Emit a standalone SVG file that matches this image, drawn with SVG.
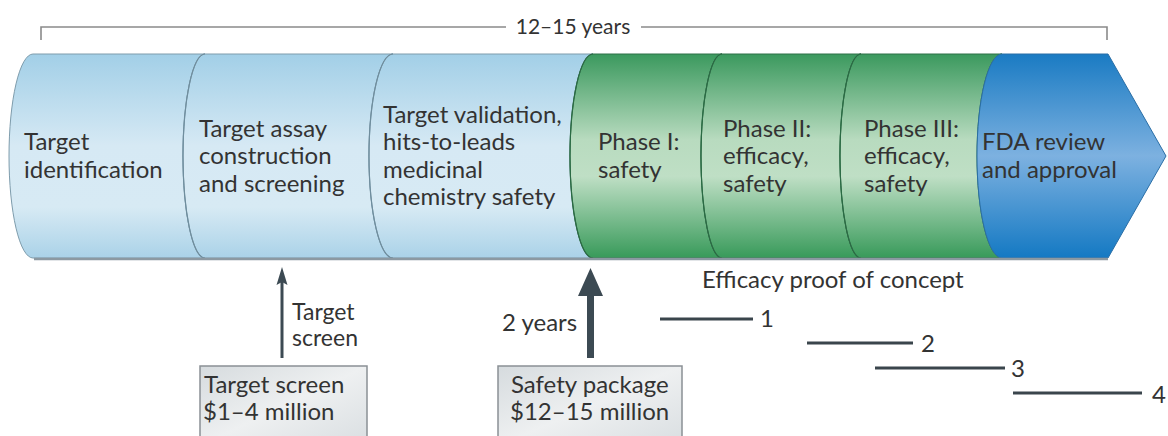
<svg xmlns="http://www.w3.org/2000/svg" width="1168" height="436" viewBox="0 0 1168 436">
  <style>
    text { font-family: Lato, "Open Sans", "Liberation Sans", sans-serif; font-size: 24px; fill: #333; }
    .small { font-size: 21px; }
    .label { font-size: 23px; }
    .bracket { fill: none; stroke: #8a8a8a; stroke-width: 1.6; }
    .seg-blue { fill: url(#gBlue); stroke: #7e9cac; stroke-width: 1; }
    .seg-green { fill: url(#gGreen); stroke: #2f7048; stroke-width: 1; }
    .seg-fda { fill: url(#gFda); stroke: #2a6ea6; stroke-width: 1; }
    .arc-blue { fill: none; stroke: #6f8d9d; stroke-width: 1.2; }
    .arc-green { fill: none; stroke: #2b6a44; stroke-width: 1.2; }
    .shadow { stroke: #8c99a2; stroke-width: 2.5; }
    .arrow { stroke: #3c4a53; fill: none; }
    .head { fill: #3c4a53; }
    .cost { fill: url(#gBox); stroke: #8a9095; stroke-width: 1.5; }
    .poc { stroke: #3a454c; stroke-width: 3; }
  </style>
  <defs>
    <linearGradient id="gBlue" x1="0" y1="0" x2="0" y2="1">
      <stop offset="0" stop-color="#a2cfe7"/>
      <stop offset="0.45" stop-color="#d6e9f4"/>
      <stop offset="0.75" stop-color="#d7eaf4"/>
      <stop offset="1" stop-color="#aad2e8"/>
    </linearGradient>
    <linearGradient id="gGreen" x1="0" y1="0" x2="0" y2="1">
      <stop offset="0" stop-color="#3b995e"/>
      <stop offset="0.42" stop-color="#b8dbbf"/>
      <stop offset="0.6" stop-color="#bfdfc5"/>
      <stop offset="1" stop-color="#389a5a"/>
    </linearGradient>
    <linearGradient id="gFda" x1="0" y1="0" x2="0" y2="1">
      <stop offset="0" stop-color="#1a7bc3"/>
      <stop offset="0.5" stop-color="#7db1e0"/>
      <stop offset="1" stop-color="#1479c3"/>
    </linearGradient>
    <linearGradient id="gBox" x1="0" y1="0" x2="1" y2="1">
      <stop offset="0" stop-color="#d6dbde"/>
      <stop offset="0.5" stop-color="#eef0f1"/>
      <stop offset="1" stop-color="#d9dee1"/>
    </linearGradient>
  </defs>

  <!-- overall duration bracket -->
  <g id="duration">
    <path class="bracket" d="M41,40 V27 H506 M641,27 H1107 V40"/>
    <text class="small" x="573" y="34" text-anchor="middle">12–15 years</text>
  </g>

  <!-- pipeline stages, left to right -->
  <g id="stage-target-id">
    <path class="seg-blue" d="M33,54 A24,102 0 0 0 33,258 L205,258 A22,102 0 0 1 205,54 Z"/>
    <text x="24" y="150">Target</text>
    <text x="24" y="177.5">identification</text>
  </g>
  <g id="stage-assay">
    <path class="seg-blue" d="M205,54 A22,102 0 0 0 205,258 L393,258 A24,102 0 0 1 393,54 Z"/>
    <path class="arc-blue" d="M205,54 A22,102 0 0 0 205,258"/>
    <text x="199" y="136.5">Target assay</text>
    <text x="199" y="164">construction</text>
    <text x="199" y="191.5">and screening</text>
  </g>
  <g id="stage-validation">
    <path class="seg-blue" d="M393,54 A24,102 0 0 0 393,258 L593,258 A23,102 0 0 1 593,54 Z"/>
    <path class="arc-blue" d="M393,54 A24,102 0 0 0 393,258"/>
    <text x="383" y="122.75">Target validation,</text>
    <text x="383" y="150.25">hits-to-leads</text>
    <text x="383" y="177.75">medicinal</text>
    <text x="383" y="205.25">chemistry safety</text>
  </g>
  <g id="stage-phase1">
    <path class="seg-green" d="M593,54 A23,102 0 0 0 593,258 L722,258 A21,102 0 0 1 722,54 Z"/>
    <path class="arc-green" d="M593,54 A23,102 0 0 0 593,258"/>
    <text x="598" y="150">Phase I:</text>
    <text x="598" y="177.5">safety</text>
  </g>
  <g id="stage-phase2">
    <path class="seg-green" d="M722,54 A21,102 0 0 0 722,258 L861,258 A21,102 0 0 1 861,54 Z"/>
    <path class="arc-green" d="M722,54 A21,102 0 0 0 722,258"/>
    <text x="723" y="136.5">Phase II:</text>
    <text x="723" y="164">efficacy,</text>
    <text x="723" y="191.5">safety</text>
  </g>
  <g id="stage-phase3">
    <path class="seg-green" d="M861,54 A21,102 0 0 0 861,258 L1002,258 A25,102 0 0 1 1002,54 Z"/>
    <path class="arc-green" d="M861,54 A21,102 0 0 0 861,258"/>
    <text x="864" y="136.5">Phase III:</text>
    <text x="864" y="164">efficacy,</text>
    <text x="864" y="191.5">safety</text>
  </g>
  <g id="stage-fda">
    <path class="seg-fda" d="M1002,54 A25,102 0 0 0 1002,258 L1108,258 L1166,156 L1108,54 Z"/>
    <text x="982" y="150">FDA review</text>
    <text x="982" y="177.5">and approval</text>
  </g>
  <line class="shadow" x1="34" y1="259" x2="1108" y2="259"/>

  <!-- cost boxes -->
  <g id="box-target-screen">
    <rect class="cost" x="200" y="366" width="167" height="80"/>
    <text x="204" y="393">Target screen</text>
    <text x="203" y="420">$1–4 million</text>
  </g>
  <g id="box-safety-package">
    <rect class="cost" x="498" y="366" width="184" height="80"/>
    <text x="511" y="393">Safety package</text>
    <text x="510" y="420">$12–15 million</text>
  </g>

  <!-- efficacy proof-of-concept bars -->
  <g id="proof-of-concept">
    <text x="702" y="288">Efficacy proof of concept</text>
    <line class="poc" x1="660" y1="319" x2="753" y2="319"/>
    <text x="760" y="327">1</text>
    <line class="poc" x1="807" y1="343" x2="913" y2="343"/>
    <text x="921" y="352">2</text>
    <line class="poc" x1="875" y1="368" x2="1005" y2="368"/>
    <text x="1011" y="377">3</text>
    <line class="poc" x1="1013" y1="393" x2="1142" y2="393"/>
    <text x="1152" y="403">4</text>
  </g>

  <!-- connectors from cost boxes up to the pipeline -->
  <g id="connectors">
    <line class="arrow" x1="282" y1="358" x2="282" y2="280" stroke-width="3"/>
    <path class="head" d="M282,267 L287.5,285 L282,282 L276.5,285 Z"/>
    <text class="label" x="292" y="320">Target</text>
    <text class="label" x="292" y="346">screen</text>
    <path class="head" d="M587,358 V296 H578 L590.5,268 L603,296 H594 V358 Z"/>
    <text x="502" y="331">2 years</text>
  </g>
</svg>
